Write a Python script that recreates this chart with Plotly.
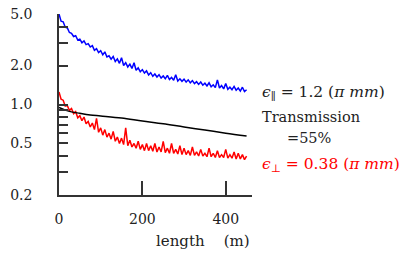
import plotly.graph_objects as go

step_m = 5
blue_vals = [5.0, 4.4, 4.35, 3.95, 3.9, 3.6, 3.55, 3.35, 3.4, 3.15,
             3.2, 3.0, 3.1, 2.9, 2.95, 2.78, 2.85, 2.62, 2.7, 2.52,
             2.6, 2.42, 2.55, 2.33, 2.38, 2.24, 2.35, 2.15, 2.25, 2.08,
             2.3, 2.0, 2.1, 1.95, 2.05, 1.9, 2.1, 1.84, 1.92, 1.79,
             1.86, 1.75, 1.82, 1.69, 1.76, 1.65, 1.72, 1.63, 1.70, 1.60,
             1.66, 1.58, 1.68, 1.56, 1.62, 1.54, 1.70, 1.52, 1.58, 1.51,
             1.57, 1.49, 1.55, 1.47, 1.53, 1.45, 1.50, 1.43, 1.49, 1.41,
             1.46, 1.39, 1.47, 1.37, 1.42, 1.35, 1.55, 1.34, 1.40, 1.32,
             1.45, 1.31, 1.36, 1.30, 1.38, 1.29, 1.34, 1.27, 1.36, 1.26,
             1.30]
red_vals = [1.25, 1.1, 1.08, 0.97, 0.98, 0.9, 0.93, 0.85, 0.88, 0.79,
            0.82, 0.75, 0.8, 0.71, 0.74, 0.67, 0.72, 0.64, 0.78, 0.61,
            0.66, 0.58, 0.64, 0.56, 0.6, 0.54, 0.62, 0.52, 0.56, 0.5,
            0.55, 0.49, 0.66, 0.48, 0.53, 0.47, 0.5, 0.46, 0.52, 0.45,
            0.49, 0.44, 0.5, 0.44, 0.48, 0.435, 0.5, 0.43, 0.47, 0.43,
            0.52, 0.425, 0.46, 0.42, 0.5, 0.42, 0.45, 0.415, 0.48, 0.41,
            0.46, 0.41, 0.44, 0.405, 0.47, 0.405, 0.43, 0.40, 0.45, 0.40,
            0.42, 0.395, 0.46, 0.395, 0.42, 0.39, 0.44, 0.39, 0.41, 0.39,
            0.45, 0.385, 0.41, 0.385, 0.43, 0.38, 0.42, 0.38, 0.41, 0.375,
            0.40]
noisy_length = [i * step_m for i in range(len(blue_vals))]

trans_length = [0, 10, 25, 50, 75, 100, 150, 200, 250, 300, 350, 400, 450]
trans_vals = [0.95, 0.92, 0.885, 0.855, 0.83, 0.815, 0.785, 0.745, 0.71, 0.67, 0.635, 0.60, 0.57]

y_tickvals = [0.2, 0.3, 0.4, 0.5, 0.6, 0.7, 0.8, 0.9, 1.0, 2.0, 3.0, 4.0, 5.0]
y_ticktext = ["0.2", "", "", "0.5", "", "", "", "", "1.0", "2.0", "", "", "5.0"]
x_tickvals = [0, 200, 400]

FONT = "DejaVu Serif"
FS = 14
AFS = 14.5
MFS = 15.5
TXT = "#222"

fig = go.Figure()
fig.add_trace(go.Scatter(x=noisy_length, y=blue_vals, mode="lines",
                         line=dict(color="#0000ff", width=1.5)))
fig.add_trace(go.Scatter(x=noisy_length, y=red_vals, mode="lines",
                         line=dict(color="#ff0000", width=1.5)))
fig.add_trace(go.Scatter(x=trans_length, y=trans_vals, mode="lines",
                         line=dict(color="#000000", width=1.5, shape="spline")))

fig.update_layout(
    width=409, height=254,
    margin=dict(l=59, r=157, t=14, b=59),
    paper_bgcolor="white", plot_bgcolor="white",
    showlegend=False,
    font=dict(family=FONT, size=FS, color=TXT),
    xaxis=dict(range=[0, 463], showline=True, linecolor="#333", linewidth=1.5,
               ticks="inside", ticklen=14, tickwidth=1.5, tickcolor="#333",
               tickvals=x_tickvals, showgrid=False, zeroline=False,
               automargin=False,
               ticklabelstandoff=10, tickfont=dict(family=FONT, size=FS, color=TXT)),
    yaxis=dict(type="log", range=[-0.69897, 0.69897], showline=True,
               linecolor="#333", linewidth=1.5,
               ticks="inside", ticklen=9, tickwidth=1.5, tickcolor="#333",
               tickvals=y_tickvals, ticktext=y_ticktext, showgrid=False,
               zeroline=False, automargin=False, ticklabelstandoff=22,
               tickfont=dict(family=FONT, size=FS, color=TXT)),
    annotations=[
        dict(text="length    (m)", xref="paper", yref="paper", x=1.0, y=-0.255,
             xanchor="right", yanchor="middle", showarrow=False,
             font=dict(family=FONT, size=15, color=TXT)),
        dict(text="<i>ϵ</i><sub>∥</sub> = 1.2 (<i>π mm</i>)", xref="paper", yref="paper",
             x=1.04, y=0.565, xanchor="left", yanchor="middle", showarrow=False,
             font=dict(family=FONT, size=MFS, color=TXT)),
        dict(text="Transmission", xref="paper", yref="paper",
             x=1.04, y=0.43, xanchor="left", yanchor="middle", showarrow=False,
             font=dict(family=FONT, size=AFS, color=TXT)),
        dict(text="=55%", xref="paper", yref="paper",
             x=1.17, y=0.315, xanchor="left", yanchor="middle", showarrow=False,
             font=dict(family=FONT, size=AFS, color=TXT)),
        dict(text="<i>ϵ</i><sub>⊥</sub> = 0.38 (<i>π mm</i>)", xref="paper", yref="paper",
             x=1.04, y=0.165, xanchor="left", yanchor="middle", showarrow=False,
             font=dict(family=FONT, size=MFS, color="#ff0000")),
    ],
)

fig.write_html("out.html", config={"displayModeBar": False},
               post_script="document.body.style.margin='0px';")
